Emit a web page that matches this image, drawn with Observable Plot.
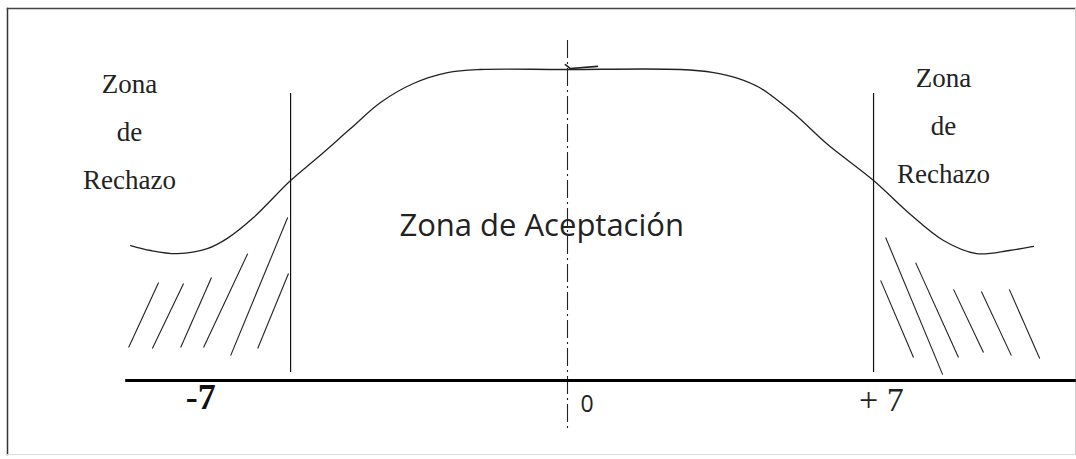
<!DOCTYPE html>
<html>
<head>
<meta charset="utf-8">
<script src="https://cdn.jsdelivr.net/npm/d3@7"></script>
<script src="https://cdn.jsdelivr.net/npm/@observablehq/plot@0.6"></script>
<style>
  html, body { margin: 0; padding: 0; background: #fff; }
</style>
</head>
<body>
<div id="chart"></div>
<script>
// Curve (operating characteristic shape)
const curveX = [-10.49, -10.01, -9.37, -8.65, -8.17, -7.54, -6.65, -6.00, -5.21, -4.49, -3.70, -2.88, -2.09, -0.10, 2.71, 3.51, 4.11, 4.61, 5.43, 6.22, 7.35, 8.21, 9.03, 9.82, 10.61, 11.19];
const curveY = [43.4, 41.8, 40.8, 42.4, 45.7, 52.4, 64.3, 71.7, 81.0, 89.4, 95.5, 99.0, 100, 100, 100, 99.0, 97.1, 94.2, 85.9, 76.2, 64.3, 53.7, 45.0, 40.8, 41.8, 43.1];

// Small pen mark at the top of the curve near the centre
const markX = [-0.05, 0.07, 0.72];
const markY = [101.6, 100.3, 101.0];

// Critical limit lines (drawn positions)
const limits = [-6.65, 7.35];
const limitTop = 92.3;
const limitBottom = 2.6;

// Hatch strokes in the rejection zones
const hatchX1 = [-10.54, -9.97, -9.29, -8.74, -8.09, -7.44, 7.52, 7.64, 8.36, 9.27, 9.94, 10.61];
const hatchY1 = [10.6, 10.3, 10.6, 10.6, 8.0, 10.3, 32.2, 46.0, 37.9, 29.3, 28.6, 29.3];
const hatchX2 = [-9.82, -9.22, -8.55, -7.68, -6.72, -6.70, 8.31, 9.01, 9.39, 9.99, 10.66, 11.34];
const hatchY2 = [31.5, 31.2, 33.1, 40.8, 52.4, 34.4, 7.4, 1.9, 7.4, 9.0, 8.0, 7.1];

// Axis extent and centre line extent
const axisX = [-10.61, 12.22];
const centerY = [109.3, -16.1];

// Tick labels
const tickLabels = ["-7", "0", "+ 7"];

const curve = curveX.map((x, i) => ({x, y: curveY[i]}));
const penMark = markX.map((x, i) => ({x, y: markY[i]}));
const hatches = hatchX1.map((x1, i) => ({x1, y1: hatchY1[i], x2: hatchX2[i], y2: hatchY2[i]}));

const chart = Plot.plot({
  width: 1076,
  height: 459,
  marginLeft: 7,
  marginTop: 8,
  marginRight: 1,
  marginBottom: 5,
  x: {domain: [-7, 7], range: [567 - 7 * 41.64, 567 + 7 * 41.64], axis: null},
  y: {domain: [0, 100], range: [380, 69], axis: null},
  style: {background: "#fff"},
  marks: [
    Plot.frame({anchor: "left", stroke: "#333", strokeWidth: 1.5}),
    Plot.frame({anchor: "top", stroke: "#444", strokeWidth: 1.5}),
    Plot.frame({anchor: "right", stroke: "#ccc"}),
    Plot.frame({anchor: "bottom", stroke: "#ddd"}),
    // centre dash-dot line
    Plot.ruleX([0], {y1: centerY[0], y2: centerY[1], stroke: "#222", strokeWidth: 1.1, strokeDasharray: "18,4,2,4"}),
    // horizontal axis
    Plot.ruleY([0], {x1: axisX[0], x2: axisX[1], stroke: "#000", strokeWidth: 3}),
    // limit lines
    Plot.ruleX(limits, {y1: limitBottom, y2: limitTop, stroke: "#111", strokeWidth: 1.2}),
    // curve
    Plot.line(curve, {x: "x", y: "y", curve: "catmull-rom", stroke: "#222", strokeWidth: 1.3}),
    Plot.line(penMark, {x: "x", y: "y", stroke: "#222", strokeWidth: 1.6}),
    // hatches
    Plot.link(hatches, {x1: "x1", y1: "y1", x2: "x2", y2: "y2", stroke: "#222", strokeWidth: 1.1}),
    // zone labels
    Plot.text(["Zona\nde\nRechazo"], {x: -10.52, y: 81.9, fontSize: 27, lineHeight: 1.78, fontFamily: "Liberation Serif", fill: "#222", textAnchor: "middle"}),
    Plot.text(["Zona\nde\nRechazo"], {x: 9.03, y: 83.8, fontSize: 27, lineHeight: 1.78, fontFamily: "Liberation Serif", fill: "#222", textAnchor: "middle"}),
    Plot.text(["Zona de Aceptación"], {x: -0.62, y: 49.6, fontSize: 31, fontFamily: "Open Sans", fill: "#222", textAnchor: "middle"}),
    // tick labels
    Plot.text([tickLabels[0]], {x: -8.81, y: -5.6, fontSize: 36, fontWeight: "bold", fontFamily: "Liberation Serif", fill: "#111", textAnchor: "middle"}),
    Plot.text([tickLabels[1]], {x: 0.47, y: -7.8, fontSize: 23, fontFamily: "Open Sans", fill: "#222", textAnchor: "middle"}),
    Plot.text([tickLabels[2]], {x: 7.54, y: -6.2, fontSize: 34, fontFamily: "Liberation Serif", fill: "#222", textAnchor: "middle"})
  ]
});
document.getElementById("chart").appendChild(chart);
</script>
</body>
</html>
